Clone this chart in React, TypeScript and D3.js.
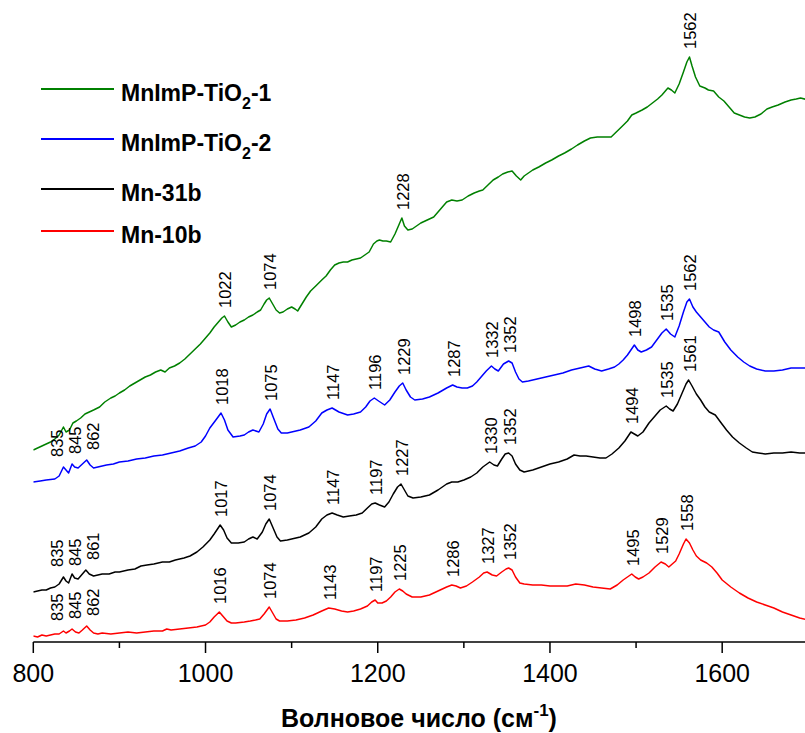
import React from "react";
import * as d3 from "d3";

type Pt = [number, number];

const mn10b: Pt[] = [[800,6],[805,5],[810,7],[815,6],[820,7],[825,8],[830,8],[835,11],[838,9],[842,11],[845,13],[849,10],[853,9],[857,12],[862,16],[866,12],[870,9],[875,8],[880,9],[890,8],[900,9],[910,10],[920,9],[930,10],[940,11],[950,11],[955,13],[960,12],[970,13],[980,14],[990,15],[1000,17],[1005,20],[1010,25],[1016,30],[1020,26],[1025,21],[1030,19],[1035,19],[1045,20],[1052,21],[1058,22],[1063,23],[1068,28],[1074,35],[1078,29],[1082,23],[1086,21],[1095,21],[1105,22],[1115,24],[1125,27],[1135,31],[1143,34],[1150,33],[1158,31],[1165,30],[1172,31],[1180,33],[1188,36],[1193,40],[1197,42],[1200,39],[1205,39],[1210,41],[1215,45],[1220,50],[1225,53],[1229,51],[1233,48],[1240,45],[1250,45],[1260,47],[1270,51],[1280,55],[1286,57],[1291,56],[1296,54],[1303,56],[1310,60],[1318,65],[1323,69],[1327,70],[1333,67],[1338,66],[1344,70],[1349,73],[1352,74],[1356,72],[1360,65],[1365,59],[1370,58],[1380,57],[1390,57],[1400,56],[1410,56],[1420,56],[1430,58],[1440,57],[1450,55],[1460,54],[1470,53],[1478,57],[1485,62],[1490,65],[1495,68],[1499,65],[1503,63],[1508,65],[1515,69],[1522,75],[1529,80],[1534,78],[1538,75],[1546,81],[1550,88],[1555,98],[1558,103],[1562,99],[1566,92],[1570,86],[1575,82],[1582,79],[1588,75],[1594,69],[1600,62],[1610,55],[1620,49],[1630,44],[1640,40],[1650,37],[1660,34],[1670,30],[1680,27],[1690,24],[1700,22]];

const mn31b: Pt[] = [[800,50],[805,51],[810,52],[815,52],[820,54],[825,55],[830,58],[835,65],[838,61],[841,59],[845,68],[848,64],[852,63],[856,67],[861,72],[865,68],[870,66],[875,67],[880,68],[888,68],[895,70],[900,70],[910,72],[918,73],[925,76],[932,77],[940,78],[950,80],[958,80],[965,82],[975,84],[982,86],[990,90],[997,95],[1005,102],[1010,108],[1017,117],[1021,112],[1025,104],[1030,99],[1038,99],[1045,100],[1050,103],[1055,105],[1060,103],[1066,110],[1070,118],[1074,123],[1078,115],[1083,105],[1087,101],[1095,102],[1100,103],[1110,105],[1120,109],[1128,115],[1135,123],[1141,127],[1147,129],[1153,127],[1160,125],[1167,126],[1175,127],[1182,129],[1188,134],[1193,138],[1197,139],[1202,137],[1208,135],[1213,140],[1218,148],[1223,155],[1227,158],[1231,152],[1235,146],[1241,144],[1250,145],[1260,147],[1270,152],[1280,158],[1286,160],[1293,160],[1300,162],[1308,165],[1315,169],[1322,175],[1330,180],[1335,177],[1339,176],[1344,183],[1348,188],[1352,189],[1356,186],[1360,178],[1365,172],[1370,170],[1380,172],[1390,175],[1400,178],[1410,180],[1420,183],[1428,187],[1435,186],[1442,186],[1450,185],[1458,184],[1465,184],[1472,188],[1480,194],[1487,201],[1494,210],[1498,208],[1502,206],[1508,210],[1515,219],[1522,226],[1528,232],[1535,236],[1539,233],[1543,231],[1548,238],[1553,248],[1558,258],[1561,262],[1565,256],[1570,248],[1575,242],[1580,235],[1585,230],[1592,227],[1598,220],[1605,212],[1612,205],[1620,199],[1628,194],[1635,190],[1642,189],[1650,188],[1660,189],[1670,189],[1680,190],[1690,189],[1700,189]];

const mnimp2: Pt[] = [[800,160],[808,161],[815,162],[825,163],[830,166],[835,175],[838,172],[841,169],[845,178],[848,175],[852,174],[857,178],[862,182],[866,177],[870,174],[875,175],[885,177],[893,178],[900,180],[910,181],[920,183],[930,184],[940,186],[950,187],[960,189],[970,191],[980,194],[988,196],[995,200],[1000,206],[1005,214],[1012,222],[1018,229],[1022,222],[1026,212],[1032,205],[1040,206],[1045,207],[1050,210],[1055,212],[1062,210],[1067,218],[1071,228],[1075,233],[1079,224],[1084,213],[1088,209],[1095,209],[1100,210],[1110,212],[1120,215],[1128,221],[1135,229],[1141,232],[1147,234],[1155,230],[1165,227],[1172,228],[1180,230],[1186,235],[1191,241],[1196,244],[1201,241],[1208,237],[1214,242],[1220,250],[1225,256],[1229,259],[1233,252],[1238,245],[1243,242],[1252,243],[1260,245],[1270,249],[1280,254],[1287,257],[1292,255],[1298,254],[1304,254],[1310,256],[1315,260],[1320,265],[1326,271],[1332,276],[1336,273],[1340,271],[1346,278],[1352,281],[1356,279],[1360,270],[1364,263],[1368,260],[1375,261],[1385,263],[1395,265],[1405,267],[1415,269],[1425,272],[1435,274],[1445,276],[1452,273],[1460,271],[1468,273],[1475,275],[1480,278],[1485,282],[1490,287],[1494,292],[1498,297],[1502,292],[1506,290],[1512,292],[1518,295],[1524,302],[1530,309],[1535,313],[1540,308],[1545,305],[1550,316],[1555,330],[1559,340],[1562,343],[1566,335],[1570,330],[1575,325],[1580,320],[1585,315],[1590,312],[1596,310],[1603,300],[1610,292],[1618,285],[1625,280],[1632,276],[1640,273],[1650,271],[1660,271],[1670,272],[1680,274],[1690,274],[1700,274]];

const mnimp1: Pt[] = [[800,192],[805,194],[810,196],[815,198],[820,200],[825,203],[830,207],[835,215],[838,210],[842,212],[846,219],[850,221],[855,224],[860,228],[865,230],[870,232],[877,235],[883,240],[890,244],[895,246],[900,249],[906,252],[912,256],[918,259],[924,262],[930,265],[936,267],[942,270],[948,272],[953,270],[958,274],[964,276],[970,279],[976,283],[982,288],[988,293],[994,298],[1000,304],[1005,309],[1010,315],[1015,320],[1019,324],[1022,326],[1026,320],[1030,315],[1035,317],[1040,320],[1045,322],[1050,325],[1055,327],[1060,330],[1064,332],[1068,338],[1071,342],[1074,344],[1078,338],[1082,332],[1086,329],[1090,330],[1095,333],[1100,335],[1104,333],[1107,331],[1112,338],[1117,345],[1122,351],[1128,356],[1135,362],[1140,366],[1145,372],[1150,377],[1155,379],[1160,380],[1165,380],[1170,382],[1175,383],[1180,384],[1185,387],[1190,390],[1195,398],[1199,401],[1202,402],[1206,401],[1210,401],[1215,400],[1220,408],[1225,418],[1228,424],[1231,416],[1235,412],[1240,413],[1245,416],[1250,419],[1255,421],[1260,423],[1265,425],[1270,430],[1275,435],[1280,440],[1286,442],[1292,441],[1298,442],[1305,446],[1312,449],[1318,451],[1322,452],[1328,457],[1334,462],[1340,465],[1345,468],[1351,470],[1356,471],[1361,466],[1366,462],[1370,466],[1375,469],[1380,472],[1387,475],[1395,479],[1402,482],[1410,486],[1417,489],[1425,493],[1432,497],[1440,501],[1447,504],[1455,505],[1462,505],[1471,505],[1477,510],[1483,515],[1490,521],[1495,527],[1500,529],[1507,532],[1513,535],[1519,539],[1525,543],[1530,547],[1537,554],[1541,552],[1545,549],[1550,558],[1555,570],[1559,580],[1562,585],[1565,576],[1569,565],[1574,556],[1580,554],[1584,552],[1590,551],[1596,545],[1602,541],[1608,535],[1614,529],[1620,527],[1626,525],[1632,524],[1638,525],[1645,528],[1652,533],[1658,535],[1665,537],[1673,540],[1680,542],[1686,543],[1691,544],[1700,542]];

const peaksMnImP1 = [1022, 1074, 1228, 1562];
const peaksMnImP2 = [835, 845, 862, 1018, 1075, 1147, 1196, 1229, 1287, 1332, 1352, 1498, 1535, 1562];
const peaksMn31b = [835, 845, 861, 1017, 1074, 1147, 1197, 1227, 1330, 1352, 1494, 1535, 1561];
const peaksMn10b = [835, 845, 862, 1016, 1074, 1143, 1197, 1225, 1286, 1327, 1352, 1495, 1529, 1558];

const seriesNames = ["MnImP-TiO2-1", "MnImP-TiO2-2", "Mn-31b", "Mn-10b"];
const seriesColors = ["#008000", "#0000ff", "#000000", "#ff0000"];

const majorTicks = [800, 1000, 1200, 1400, 1600];
const minorTicks = [900, 1100, 1300, 1500, 1700];
const xTitle = "Волновое число (см";

const W = 805;
const H = 733;

export default function App() {
  const x = d3.scaleLinear().domain([800, 1700]).range([33.3, 808.3]);
  const y = d3.scaleLinear().domain([0, 600]).range([642, 42]);
  const line = d3
    .line<Pt>()
    .x((d) => x(d[0]))
    .y((d) => y(d[1]))
    .curve(d3.curveLinear);

  const allSeries = [mnimp1, mnimp2, mn31b, mn10b];
  const allPeaks = [peaksMnImP1, peaksMnImP2, peaksMn31b, peaksMn10b];

  // max curve intensity within a pixel window around px
  const topNear = (s: Pt[], px: number, halfPx: number) => {
    let m = -Infinity;
    for (const p of s) if (Math.abs(x(p[0]) - px) <= halfPx) m = Math.max(m, p[1]);
    if (m === -Infinity) {
      const wn = x.invert(px);
      const bis = d3.bisector((d: Pt) => d[0]).left(s, wn);
      m = s[Math.min(bis, s.length - 1)][1];
    }
    return m;
  };

  // spread neighbouring labels horizontally so they don't collide
  const spread = (pos: number[], minSep: number) => {
    const p = pos.slice();
    for (let it = 0; it < 60; it++) {
      for (let j = 0; j < p.length - 1; j++) {
        const d = p[j + 1] - p[j];
        if (d < minSep) {
          const push = (minSep - d) / 2;
          p[j] -= push;
          p[j + 1] += push;
        }
      }
    }
    return p;
  };

  const font = "'Liberation Sans', Arial, sans-serif";
  const legendY = [89, 139, 189, 231];

  return (
    <svg
      width={W}
      height={H}
      style={{ position: "absolute", left: 0, top: 0, background: "#fff" }}
      fontFamily={font}
    >
      <defs>
        <clipPath id="plotclip">
          <rect x={x(800)} y={0} width={W - x(800)} height={642} />
        </clipPath>
      </defs>
      <rect width={W} height={H} fill="#fff" />
      <g clipPath="url(#plotclip)">
        {allSeries.map((s, i) => (
          <path
            key={i}
            d={line(s) || ""}
            fill="none"
            stroke={seriesColors[i]}
            strokeWidth={1.5}
            strokeLinejoin="round"
          />
        ))}
      </g>
      {allPeaks.map((pk, i) => {
        const xs = spread(pk.map((wn) => x(wn)), 18);
        return pk.map((wn, j) => {
          const px = xs[j];
          const shifted = Math.abs(px - x(wn)) > 2;
          const top = Math.max(
            topNear(allSeries[i], x(wn), 3),
            topNear(allSeries[i], px, 6)
          );
          const py = y(top) - (shifted ? 10 : 8);
          return (
            <text
              key={i + "-" + wn}
              transform={`translate(${px},${py}) rotate(-90)`}
              dy="0.42em"
              fontSize={16.5}
              fill="#000"
            >
              {wn}
            </text>
          );
        });
      })}
      {/* x axis */}
      <line x1={x(800)} x2={W} y1={642} y2={642} stroke="#000" strokeWidth={1.5} />
      {majorTicks.map((t) => (
        <g key={"M" + t}>
          <line x1={x(t)} x2={x(t)} y1={642} y2={653} stroke="#000" strokeWidth={1.5} />
          <text x={x(t)} y={681.5} textAnchor="middle" fontSize={25} fill="#000">
            {t}
          </text>
        </g>
      ))}
      {minorTicks.map((t) => (
        <line key={"m" + t} x1={x(t)} x2={x(t)} y1={642} y2={648} stroke="#000" strokeWidth={1.5} />
      ))}
      <text x={419} y={727} textAnchor="middle" fontSize={25} fontWeight="bold" fill="#000">
        {xTitle}
        <tspan fontSize={17} dy={-11}>-1</tspan>
        <tspan dy={11}>)</tspan>
      </text>
      {/* legend */}
      {seriesNames.map((n, i) => {
        const ly = legendY[i];
        const m = n.match(/^(.*TiO)2(.*)$/);
        return (
          <g key={n}>
            <line x1={41} x2={114} y1={ly} y2={ly} stroke={seriesColors[i]} strokeWidth={2} />
            <text x={121} y={ly + 11.5} fontSize={23} fontWeight="bold" fill="#000">
              {m ? (
                <>
                  {m[1]}
                  <tspan fontSize={16} dy={8}>2</tspan>
                  <tspan dy={-8}>{m[2]}</tspan>
                </>
              ) : (
                n
              )}
            </text>
          </g>
        );
      })}
    </svg>
  );
}
